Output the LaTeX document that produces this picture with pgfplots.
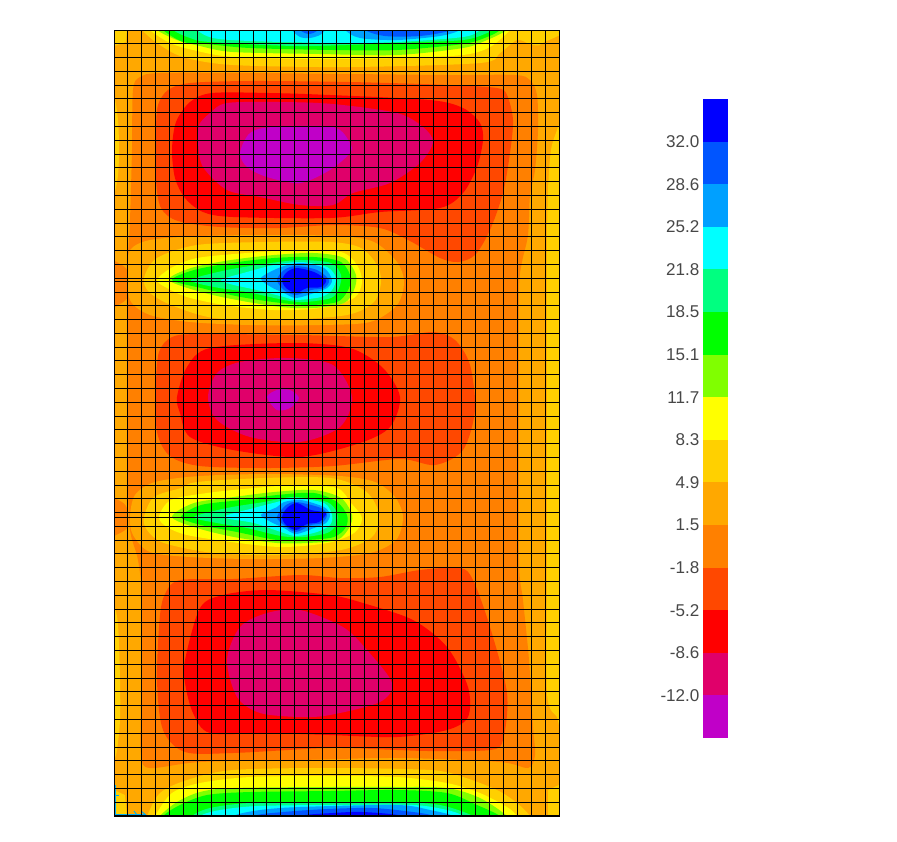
\documentclass[border=0pt]{standalone}
\usepackage{fontspec}
\setmainfont{Liberation Sans}
\usepackage{pgfplots}
\pgfplotsset{compat=1.18}

% contour band colours, top of the scale first
\definecolor{b01}{HTML}{0000FF}
\definecolor{b02}{HTML}{0055FF}
\definecolor{b03}{HTML}{00A0FF}
\definecolor{b04}{HTML}{00FFFF}
\definecolor{b05}{HTML}{00FF80}
\definecolor{b06}{HTML}{00FF00}
\definecolor{b07}{HTML}{80FF00}
\definecolor{b08}{HTML}{FFFF00}
\definecolor{b09}{HTML}{FFD000}
\definecolor{b10}{HTML}{FFA800}
\definecolor{b11}{HTML}{FF8000}
\definecolor{b12}{HTML}{FF4800}
\definecolor{b13}{HTML}{FF0000}
\definecolor{b14}{HTML}{E0006A}
\definecolor{b15}{HTML}{C000C8}

\pgfplotsset{
  band/.style={draw=none,fill=#1,smooth cycle,tension=0.5,forget plot},
  flat/.style={draw=none,fill=#1,sharp plot,forget plot},
}

\begin{document}
\begin{tikzpicture}
\path[use as bounding box] (0pt,0pt) rectangle (672.75pt,-631.5pt);

% plate, coordinates are picture pixels
\begin{axis}[
  at={(85.5pt,-22.5pt)},anchor=north west,
  scale only axis,width=333.75pt,height=589.5pt,
  xmin=114,xmax=559,ymin=30,ymax=816,y dir=reverse,
  xtick={114,127.906,...,559.5},
  ytick={30,43.789,...,816.5},
  xticklabels={},yticklabels={},
  major tick length=0pt,
  grid=major,
  grid style={black,line width=0.75pt},
  axis line style={black,line width=0.5pt},
  axis on top,
]
\addplot[flat=b10] coordinates {(114,30)(559,30)(559,816)(114,816)};

% gold strips along the edges
\addplot[band=b09] coordinates {(108,90)(114,95)(118,120)(119,150)(118,175)(114,195)(108,200)};
\addplot[band=b09] coordinates {(108,600)(114,605)(118,625)(120,680)(120,720)(117,750)(114,760)(108,765)};
\addplot[flat=b09] coordinates {(114,30)(127,30)(126,42)(114,46)};
\addplot[flat=b09] coordinates {(114,790)(125,795)(127,816)(114,816)};
\addplot[band=b09] coordinates {(565,120)(559,125)(557,130)(551,150)(548,190)(547,250)(547,400)(547,560)(547,693)(557,717)(559,725)(565,730)};
\addplot[flat=b09] coordinates {(548,790)(559,785)(559,816)(548,816)};

% low side: orange
\addplot[band=b11] coordinates {(133,90)(140,77)(160,73)(250,73)(350,74)(450,75)(515,75)(530,80)(537,95)(538,130)(535,170)(530,195)(528,235)(522,262)(519,290)(519,400)(519,560)(523,600)(529,660)(533,727)(535,755)(528,768)(500,762)(400,758)(300,760)(200,762)(150,768)(141,755)(141,700)(142,600)(138,560)(130,530)(128,480)(128,400)(128,320)(128,260)(130,220)(132,150)};
\addplot[band=b11] coordinates {(108,262)(120,264)(128,272)(129,295)(120,304)(108,306)};
\addplot[band=b11] coordinates {(108,499)(120,501)(127,508)(128,526)(120,533)(108,535)};

% top low
\addplot[band=b12] coordinates {(156,130)(158,105)(168,90)(190,83)(250,81)(350,82)(450,85)(497,88)(507,95)(513,120)(510,153)(503,193)(490,230)(475,255)(458,262)(440,258)(410,241)(380,228)(333,225)(280,228)(220,227)(178,221)(161,208)(156,180)};
\addplot[band=b13] coordinates {(172,150)(176,122)(190,102)(212,93)(270,93)(330,95)(430,100)(463,108)(480,123)(483,140)(477,167)(463,193)(440,208)(380,212)(330,218)(233,217)(203,212)(185,198)(175,178)};
\addplot[band=b14] coordinates {(198,143)(199,125)(210,113)(227,103)(280,102)(333,104)(397,113)(423,127)(433,142)(420,163)(390,183)(353,193)(333,205)(300,205)(260,197)(227,190)(203,167)};
\addplot[band=b15] coordinates {(240,153)(250,133)(273,127)(333,127)(350,143)(350,153)(330,170)(300,183)(267,177)(247,167)};

% middle low
\addplot[band=b12] coordinates {(156,385)(159,352)(172,337)(200,334)(300,335)(390,337)(433,332)(455,340)(470,365)(475,410)(463,450)(435,465)(400,459)(333,466)(267,468)(200,466)(170,456)(157,432)};
\addplot[band=b13] coordinates {(177,397)(187,367)(210,348)(293,343)(350,348)(383,368)(400,397)(390,427)(360,443)(300,457)(233,450)(190,437)(180,413)};
\addplot[band=b14] coordinates {(208,397)(217,373)(240,362)(287,358)(333,365)(352,397)(340,427)(300,442)(250,437)(217,420)};
\addplot[band=b15] coordinates {(267,397)(277,390)(290,390)(299,398)(290,408)(277,410)};

% bottom low
\addplot[band=b12] coordinates {(180,580)(233,579)(300,575)(340,578)(380,577)(420,570)(460,568)(473,580)(490,627)(507,693)(503,740)(490,750)(430,751)(397,750)(330,748)(233,753)(185,752)(163,730)(157,680)(160,615)(166,592)};
\addplot[band=b13] coordinates {(185,660)(200,608)(223,595)(267,590)(330,595)(363,603)(413,620)(447,647)(468,687)(468,717)(447,730)(397,737)(330,735)(267,733)(210,733)(193,713)(185,683)};
\addplot[band=b14] coordinates {(227,660)(240,627)(267,613)(300,610)(343,627)(367,650)(392,683)(380,702)(330,715)(300,717)(260,713)(237,697)};

% upper ridge
\addplot[band=b10] coordinates {(128,270)(130,250)(150,240)(200,236)(270,235)(340,236)(374,242)(397,262)(404,282)(397,305)(370,322)(320,325)(250,325)(190,322)(150,315)(130,300)};
\addplot[band=b09] coordinates {(144,278)(157,258)(197,245)(264,242)(331,242)(361,248)(377,265)(381,282)(374,302)(347,315)(281,320)(214,318)(171,305)(149,292)};
\addplot[band=b08] coordinates {(157,280)(171,268)(197,258)(247,253)(297,250)(341,252)(357,265)(362,282)(354,298)(321,308)(274,310)(224,305)(187,297)(167,288)};
\addplot[band=b07] coordinates {(169,280)(191,268)(231,260)(274,255)(314,253)(344,258)(356,275)(354,290)(344,303)(314,308)(281,307)(237,300)(201,292)};
\addplot[band=b06] coordinates {(172,280)(194,270)(231,263)(274,258)(314,257)(341,262)(351,278)(347,292)(337,302)(311,305)(281,303)(241,297)(201,288)};
\addplot[band=b05] coordinates {(191,280)(227,270)(271,263)(301,260)(331,263)(341,275)(339,288)(331,298)(304,302)(284,300)(247,292)(214,287)};
\addplot[band=b04] coordinates {(221,280)(247,272)(274,265)(301,262)(327,267)(336,278)(332,290)(321,297)(296,300)(284,297)(257,290)(234,285)};
\addplot[band=b03] coordinates {(261,278)(281,267)(301,263)(324,268)(332,280)(327,288)(314,293)(296,298)(284,293)(271,287)};
\addplot[band=b02] coordinates {(277,280)(284,270)(296,266)(317,270)(329,280)(324,288)(311,290)(296,295)(284,290)};
\addplot[band=b01] coordinates {(282,280)(287,272)(297,268)(314,272)(326,280)(321,287)(307,288)(296,293)(286,288)};

% lower ridge
\addplot[band=b10] coordinates {(130,517)(135,495)(155,482)(200,476)(270,474)(340,476)(375,482)(395,497)(403,517)(396,540)(370,553)(320,558)(250,559)(190,557)(150,552)(133,535)};
\addplot[band=b09] coordinates {(144,517)(154,497)(181,488)(197,482)(264,478)(331,478)(364,490)(377,507)(379,522)(371,538)(341,550)(281,555)(214,553)(164,543)(147,530)};
\addplot[band=b08] coordinates {(159,517)(171,500)(207,493)(254,488)(297,485)(337,488)(351,503)(362,518)(354,533)(327,543)(281,547)(231,542)(187,535)(167,527)};
\addplot[band=b07] coordinates {(172,517)(194,503)(234,497)(274,492)(314,490)(341,498)(352,515)(349,528)(337,540)(307,543)(277,543)(234,537)(197,528)};
\addplot[band=b06] coordinates {(181,517)(201,505)(241,500)(277,495)(314,493)(337,502)(347,515)(346,527)(334,537)(307,540)(277,540)(237,532)(201,525)};
\addplot[band=b05] coordinates {(194,517)(227,508)(264,502)(294,497)(327,502)(337,513)(336,525)(327,533)(304,537)(281,536)(247,528)(217,523)};
\addplot[band=b04] coordinates {(224,517)(254,508)(277,502)(294,498)(324,503)(332,515)(330,525)(317,532)(296,536)(281,532)(254,523)};
\addplot[band=b03] coordinates {(261,515)(277,507)(284,502)(301,500)(324,507)(330,515)(326,523)(314,528)(296,534)(284,528)(271,522)};
\addplot[band=b02] coordinates {(277,517)(286,505)(297,502)(321,508)(327,515)(322,523)(311,525)(296,532)(284,525)};
\addplot[band=b01] coordinates {(282,517)(287,508)(297,503)(311,510)(326,513)(319,522)(307,524)(296,530)(286,525)};

% top edge
\addplot[band=b09] coordinates {(135,20)(142,30)(157,43)(183,57)(233,65)(350,67)(480,63)(500,53)(517,40)(530,44)(541,44)(546,20)};
\addplot[band=b08] coordinates {(146,20)(150,30)(170,43)(193,50)(233,57)(320,59)(397,58)(463,55)(490,47)(510,30)(514,20)};
\addplot[band=b07] coordinates {(152,20)(157,30)(177,40)(200,46)(233,52)(320,54)(397,55)(463,48)(487,40)(507,30)(512,20)};
\addplot[band=b06] coordinates {(158,20)(163,30)(183,42)(207,44)(250,48)(333,50)(397,50)(463,44)(487,37)(500,30)(504,20)};
\addplot[band=b05] coordinates {(168,20)(173,30)(190,38)(210,42)(300,46)(397,43)(463,40)(487,33)(490,30)(494,20)};
\addplot[band=b04] coordinates {(192,20)(197,30)(213,38)(250,41)(333,43)(397,42)(463,37)(480,30)(484,20)};
\addplot[band=b03] coordinates {(288,20)(292,30)(300,37)(310,38)(320,35)(325,30)(328,20)};
\addplot[band=b03] coordinates {(340,20)(345,30)(360,38)(397,40)(440,36)(460,30)(465,20)};
\addplot[band=b02] coordinates {(296,20)(300,30)(309,34)(318,30)(321,20)};
\addplot[band=b02] coordinates {(360,20)(365,30)(385,36)(420,36)(452,30)(456,20)};

% bottom edge
\addplot[band=b09] coordinates {(144,826)(147,816)(160,793)(187,780)(233,770)(330,768)(430,770)(463,777)(497,790)(517,803)(530,816)(534,826)};
\addplot[band=b08] coordinates {(152,826)(155,816)(172,793)(200,783)(250,777)(330,776)(397,777)(447,783)(480,793)(507,807)(517,816)(520,826)};
\addplot[band=b07] coordinates {(157,826)(160,816)(177,802)(200,792)(233,788)(330,787)(397,787)(447,788)(480,798)(507,816)(510,826)};
\addplot[band=b06] coordinates {(160,826)(163,816)(180,805)(207,795)(250,792)(330,791)(397,790)(447,793)(477,805)(500,816)(504,826)};
\addplot[band=b05] coordinates {(189,826)(192,816)(210,808)(250,803)(330,802)(397,802)(440,805)(473,816)(477,826)};
\addplot[band=b04] coordinates {(197,826)(200,816)(220,810)(257,806)(330,805)(413,805)(447,810)(463,816)(467,826)};
\addplot[band=b03] coordinates {(230,826)(233,816)(260,810)(300,807)(397,805)(430,810)(453,816)(457,826)};
\addplot[band=b02] coordinates {(250,826)(253,816)(283,812)(327,809)(373,808)(413,812)(433,816)(437,826)};
\addplot[band=b01] coordinates {(297,826)(300,816)(333,813)(363,812)(403,816)(406,826)};

% mesh lines doubled at the two walls
\addplot[black,line width=0.7pt,forget plot] coordinates {(114,281)(290,281)};
\addplot[black,line width=0.7pt,forget plot] coordinates {(114,517)(300,517)};

% support marks in the corner
\addplot[cyan,line width=1pt,forget plot] coordinates {(115.5,785)(115.5,814.5)(145,814.5)};
\addplot[cyan,line width=0.7pt,forget plot] coordinates {(115,795)(119,795)};
\addplot[cyan,line width=0.7pt,forget plot] coordinates {(134,811)(137,815)};
\addplot[cyan,line width=0.7pt,forget plot] coordinates {(141,811)(146,815)};
\end{axis}

% scale bar
\begin{axis}[
  at={(527.25pt,-553.5pt)},anchor=south west,
  scale only axis,width=18.75pt,height=479.25pt,
  xmin=0,xmax=1,ymin=0,ymax=15,
  xtick=\empty,
  ytick={1,2,3,4,5,6,7,8,9,10,11,12,13,14},
  yticklabels={-12.0,-8.6,-5.2,-1.8,1.5,4.9,8.3,11.7,15.1,18.5,21.8,25.2,28.6,32.0},
  yticklabel style={font=\fontsize{12.8}{14}\selectfont,text=black!72},
  major tick length=0pt,
  tick label style={inner xsep=1pt},
  yticklabel shift=1.5pt,
  axis line style={draw=none},
]
\addplot[flat=b15] coordinates {(0,0)(1,0)(1,1)(0,1)};
\addplot[flat=b14] coordinates {(0,1)(1,1)(1,2)(0,2)};
\addplot[flat=b13] coordinates {(0,2)(1,2)(1,3)(0,3)};
\addplot[flat=b12] coordinates {(0,3)(1,3)(1,4)(0,4)};
\addplot[flat=b11] coordinates {(0,4)(1,4)(1,5)(0,5)};
\addplot[flat=b10] coordinates {(0,5)(1,5)(1,6)(0,6)};
\addplot[flat=b09] coordinates {(0,6)(1,6)(1,7)(0,7)};
\addplot[flat=b08] coordinates {(0,7)(1,7)(1,8)(0,8)};
\addplot[flat=b07] coordinates {(0,8)(1,8)(1,9)(0,9)};
\addplot[flat=b06] coordinates {(0,9)(1,9)(1,10)(0,10)};
\addplot[flat=b05] coordinates {(0,10)(1,10)(1,11)(0,11)};
\addplot[flat=b04] coordinates {(0,11)(1,11)(1,12)(0,12)};
\addplot[flat=b03] coordinates {(0,12)(1,12)(1,13)(0,13)};
\addplot[flat=b02] coordinates {(0,13)(1,13)(1,14)(0,14)};
\addplot[flat=b01] coordinates {(0,14)(1,14)(1,15)(0,15)};
\end{axis}
\end{tikzpicture}
\end{document}
